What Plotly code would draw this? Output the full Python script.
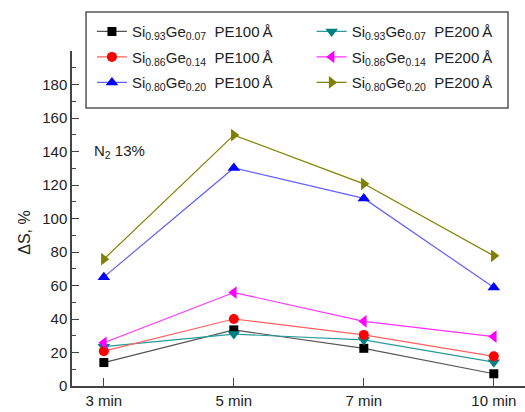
import plotly.graph_objects as go

categories = ["3 min", "5 min", "7 min", "10 min"]

names = [
    "Si<sub>0.93</sub>Ge<sub>0.07</sub>\u00a0\u00a0PE100\u2009Å",
    "Si<sub>0.93</sub>Ge<sub>0.07</sub>\u00a0\u00a0PE200\u2009Å",
    "Si<sub>0.86</sub>Ge<sub>0.14</sub>\u00a0\u00a0PE100\u2009Å",
    "Si<sub>0.86</sub>Ge<sub>0.14</sub>\u00a0\u00a0PE200\u2009Å",
    "Si<sub>0.80</sub>Ge<sub>0.20</sub>\u00a0\u00a0PE100\u2009Å",
    "Si<sub>0.80</sub>Ge<sub>0.20</sub>\u00a0\u00a0PE200\u2009Å",
]

si093_pe100 = [14, 33.5, 22.5, 7.3]
si093_pe200 = [23.5, 31, 27.5, 14.2]
si086_pe100 = [20.8, 40, 30.5, 17.7]
si086_pe200 = [25.8, 55.8, 38.6, 29.5]
si080_pe100 = [65, 130.2, 112, 58.8]
si080_pe200 = [75.7, 149.8, 120.7, 77.7]

series = [si093_pe100, si093_pe200, si086_pe100, si086_pe200, si080_pe100, si080_pe200]
colors = ["#000000", "#008080", "#ff0000", "#ff00ff", "#0000ff", "#808000"]
line_colors = ["#555555", "#2a9a9a", "#ff6060", "#ff30ff", "#6060ff", "#808000"]
symbols = ["square", "triangle-down", "circle", "triangle-left", "triangle-up", "triangle-right"]
sizes = [9, 11, 10, 11, 11, 11]
legend_ids = ["legend", "legend2", "legend", "legend2", "legend", "legend2"]

yticks = [0, 20, 40, 60, 80, 100, 120, 140, 160, 180, 200]
ytick_text = ["0", "20", "40", "60", "80", "100", "120", "140", "160", "180", ""]

fig = go.Figure()
for i, (name, ys, c, lc, s, sz, lg) in enumerate(zip(names, series, colors, line_colors, symbols, sizes, legend_ids)):
    fig.add_trace(go.Scatter(
        x=categories, y=ys, name=name, mode="lines+markers",
        line=dict(color=lc, width=1.2),
        marker=dict(symbol=s, size=sz, color=c, line=dict(width=0)),
        legend=lg, legendgroup=f"g{i}",
    ))

font_family = "Liberation Sans, Arial, sans-serif"
leg_common = dict(
    orientation="v", yanchor="top", xanchor="left",
    bgcolor="rgba(0,0,0,0)", borderwidth=0,
    font=dict(size=15, family=font_family, color="#222222"),
    traceorder="grouped", tracegroupgap=3,
)

fig.update_layout(
    width=525, height=412,
    margin=dict(l=72, r=0, t=51, b=26),
    paper_bgcolor="white", plot_bgcolor="white",
    font=dict(family=font_family, size=15, color="#222222"),
    showlegend=True,
    legend=dict(x=0.044, y=1.107, **leg_common),
    legend2=dict(x=0.529, y=1.107, **leg_common),
    shapes=[dict(type="rect", xref="paper", yref="paper",
                 x0=0.031, x1=0.9625, y0=0.83, y1=1.1164,
                 line=dict(color="#555555", width=1.5), fillcolor="rgba(0,0,0,0)",
                 layer="above")],
    xaxis=dict(
        type="category", categoryorder="array", categoryarray=categories,
        range=[-0.245, 3.24],
        showline=True, linecolor="#444444", linewidth=1.5,
        ticks="inside", ticklen=8, tickwidth=1.3, tickcolor="#444444",
        showgrid=False, zeroline=False,
        tickfont=dict(size=15),
    ),
    yaxis=dict(
        range=[0, 200],
        tickvals=yticks, ticktext=ytick_text,
        showline=True, linecolor="#444444", linewidth=1.5,
        ticks="inside", ticklen=7, tickwidth=1.3, tickcolor="#444444",
        minor=dict(dtick=10, ticks="inside", ticklen=4, tickwidth=1.3, tickcolor="#444444"),
        showgrid=False, zeroline=False,
        tickfont=dict(size=15),
    ),
    annotations=[
        dict(text="ΔS, %", xref="paper", yref="paper", x=-0.104, y=0.457,
             xanchor="center", yanchor="middle", textangle=-90, showarrow=False,
             font=dict(size=16)),
        dict(text="N<sub>2</sub> 13%", xref="paper", yref="paper", x=0.045, y=0.70,
             xanchor="left", yanchor="middle", showarrow=False,
             font=dict(size=15)),
    ],
)

fig.write_html("out.html")
